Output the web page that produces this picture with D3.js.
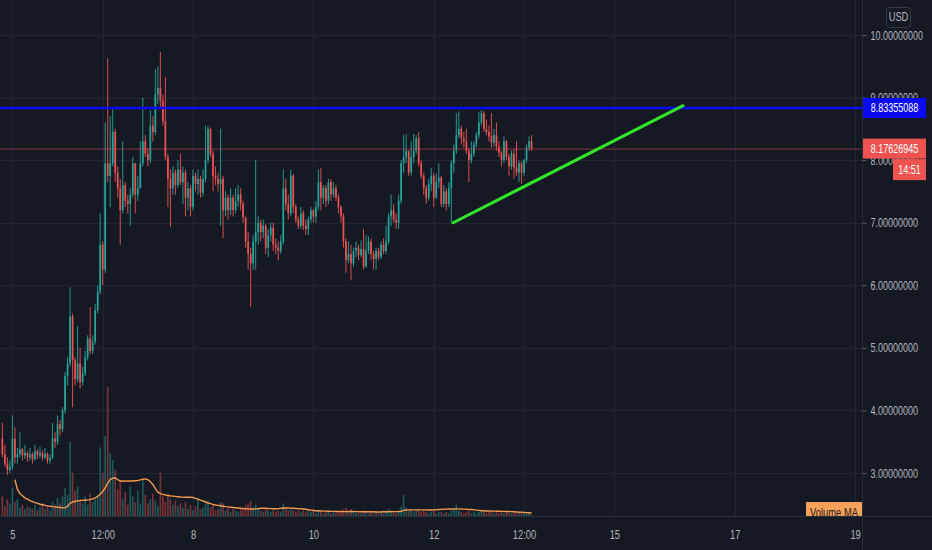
<!DOCTYPE html>
<html>
<head>
<meta charset="utf-8">
<script src="https://cdn.jsdelivr.net/npm/d3@7"></script>
<style>
  html, body { margin: 0; padding: 0; background: #151924; }
  svg { display: block; }
  text { font-family: "Liberation Sans", Arial, sans-serif; }
</style>
</head>
<body>
<script>
// ---- hourly candles, first one 4 hours before day 5 00:00 ----
const firstHour = -4;
const firstOpen = 3.55;

const closes = [
  3.30, 3.15, 3.05, 3.10, 3.55, 3.25, 3.30, 3.38, 3.28, 3.32,
  3.25, 3.30, 3.22, 3.35, 3.28, 3.32, 3.25, 3.30, 3.20, 3.24,
  3.55, 3.50, 3.78, 3.70, 4.00, 4.55, 4.75, 5.50, 4.80, 4.50,
  4.75, 4.45, 4.60, 4.85, 5.15, 4.95, 5.10, 5.60, 5.90, 6.65,
  6.25, 7.95, 7.75, 7.95, 8.45, 7.80, 7.55, 7.20, 7.60, 7.35,
  7.30, 7.45, 7.95, 7.45, 7.55, 7.95, 8.30, 8.10, 8.00, 8.55,
  8.45, 9.05, 9.15, 8.95, 8.62, 8.05, 7.70, 7.55, 7.80, 7.60,
  7.85, 7.65, 7.80, 7.40, 7.55, 7.25, 7.75, 7.62, 7.70, 7.48,
  7.70, 8.00, 8.50, 8.10, 7.75, 7.70, 7.62, 7.70, 7.20, 7.40,
  7.20, 7.40, 7.20, 7.35, 7.45, 7.30, 7.08, 6.70, 6.50, 6.35,
  6.70, 6.85, 7.00, 6.85, 6.95, 6.60, 6.80, 6.92, 6.65, 6.60,
  6.55, 6.70, 7.55, 7.30, 7.15, 7.75, 7.25, 7.05, 6.95, 7.15,
  6.95, 6.90, 7.05, 7.20, 7.10, 7.25, 7.65, 7.40, 7.55, 7.35,
  7.65, 7.45, 7.55, 7.40, 7.25, 7.10, 6.70, 6.40, 6.50, 6.35,
  6.55, 6.60, 6.48, 6.58, 6.30, 6.55, 6.70, 6.50, 6.42, 6.55,
  6.45, 6.65, 6.55, 6.70, 7.10, 7.20, 7.05, 7.00, 7.35, 7.95,
  8.05, 8.15, 7.80, 8.05, 8.15, 8.35, 7.95, 7.75, 7.55, 7.40,
  7.62, 7.75, 7.40, 7.65, 7.72, 7.30, 7.50, 7.30, 7.55, 7.95,
  8.15, 8.40, 8.50, 8.35, 8.30, 8.15, 8.00, 8.10, 8.25, 8.40,
  8.60, 8.75, 8.50, 8.45, 8.38, 8.28, 8.40, 8.22, 8.12, 8.00,
  8.30, 8.05, 7.90, 8.10, 7.88, 7.80, 7.95, 7.80, 8.00, 8.20,
  8.30, 8.17626945
];

const highs = [
  3.80, 3.45, 3.25, 3.20, 3.92, 3.73, 3.40, 3.65, 3.40, 3.45,
  3.35, 3.40, 3.33, 3.45, 3.38, 3.42, 3.36, 3.40, 3.33, 3.30,
  3.80, 3.65, 3.92, 3.85, 4.05, 4.62, 4.85, 5.97, 5.55, 4.85,
  5.35, 5.00, 4.70, 4.95, 5.20, 5.65, 5.20, 5.70, 6.00, 7.15,
  6.70, 8.60, 9.63, 8.70, 8.85, 8.50, 7.90, 7.70, 8.30, 7.65,
  7.45, 7.55, 8.05, 7.95, 7.75, 8.30, 9.00, 8.40, 8.20, 8.80,
  8.70, 9.45, 9.50, 9.73, 9.05, 9.33, 8.10, 7.85, 7.90, 7.85,
  8.00, 8.10, 7.90, 7.85, 7.65, 7.60, 7.85, 7.80, 7.85, 7.75,
  7.85, 8.55, 8.55, 8.52, 8.15, 7.90, 7.80, 8.50, 7.75, 7.50,
  7.45, 7.55, 7.45, 7.55, 7.60, 7.55, 7.35, 7.10, 6.85, 6.60,
  6.80, 8.00, 7.10, 7.05, 7.05, 6.98, 6.90, 7.00, 7.00, 6.75,
  6.70, 6.80, 7.85, 7.70, 7.45, 7.85, 7.78, 7.30, 7.10, 7.25,
  7.20, 7.05, 7.10, 7.25, 7.22, 7.35, 7.85, 7.88, 7.60, 7.60,
  7.70, 7.70, 7.65, 7.60, 7.45, 7.28, 7.15, 6.75, 6.70, 6.65,
  6.60, 6.70, 6.65, 6.72, 6.90, 6.80, 6.78, 6.75, 6.55, 6.60,
  6.60, 6.70, 6.75, 6.95, 7.15, 7.45, 7.30, 7.15, 7.45, 8.00,
  8.40, 8.42, 8.15, 8.30, 8.42, 8.40, 8.45, 8.00, 7.80, 7.60,
  7.70, 7.88, 7.80, 7.78, 7.95, 7.75, 7.60, 7.55, 7.65, 8.00,
  8.25, 8.75, 8.78, 8.55, 8.45, 8.50, 8.20, 8.30, 8.30, 8.45,
  8.77, 8.80, 8.78, 8.65, 8.55, 8.75, 8.50, 8.60, 8.30, 8.15,
  8.38, 8.32, 8.10, 8.15, 8.18, 8.30, 8.00, 7.98, 8.02, 8.25,
  8.38, 8.40
];

const lows = [
  3.25, 3.10, 2.97, 3.00, 3.05, 3.15, 3.15, 3.25, 3.20, 3.22,
  3.18, 3.20, 3.15, 3.20, 3.22, 3.24, 3.20, 3.22, 3.15, 3.15,
  3.22, 3.40, 3.45, 3.60, 3.65, 3.95, 4.40, 4.70, 4.05, 4.40,
  4.45, 4.35, 4.40, 4.55, 4.80, 4.90, 4.90, 5.05, 5.55, 5.85,
  6.00, 6.20, 7.65, 7.25, 7.90, 7.65, 7.40, 6.65, 7.15, 7.25,
  7.15, 6.95, 7.40, 7.15, 7.35, 7.55, 7.90, 8.05, 7.90, 7.95,
  8.30, 8.40, 8.90, 8.85, 8.55, 8.00, 7.25, 6.93, 7.45, 7.45,
  7.55, 7.60, 7.30, 7.10, 7.20, 7.10, 7.20, 7.50, 7.45, 7.40,
  7.42, 7.65, 7.95, 8.05, 7.50, 7.60, 7.50, 6.95, 6.75, 7.10,
  7.05, 7.12, 7.10, 7.15, 7.25, 7.20, 7.00, 6.60, 6.25, 5.65,
  6.25, 6.25, 6.65, 6.70, 6.75, 6.50, 6.45, 6.70, 6.55, 6.50,
  6.40, 6.50, 6.65, 7.20, 7.05, 7.10, 7.15, 7.00, 6.90, 6.90,
  6.88, 6.80, 6.80, 7.00, 7.00, 7.00, 7.20, 7.20, 7.30, 7.25,
  7.30, 7.35, 7.40, 7.35, 7.15, 7.00, 6.60, 6.20, 6.35, 6.08,
  6.30, 6.45, 6.40, 6.45, 6.25, 6.28, 6.50, 6.40, 6.25, 6.25,
  6.40, 6.42, 6.50, 6.50, 6.65, 6.95, 7.00, 6.90, 6.90, 7.30,
  7.80, 7.95, 7.75, 7.75, 7.95, 8.10, 7.90, 7.70, 7.45, 7.30,
  7.35, 7.50, 7.25, 7.38, 7.55, 7.25, 7.25, 7.20, 7.25, 7.00,
  7.80, 8.10, 8.35, 8.25, 8.20, 8.10, 7.65, 7.95, 8.05, 8.20,
  8.35, 8.55, 8.45, 8.40, 8.30, 8.20, 8.22, 8.15, 8.05, 7.90,
  7.95, 8.00, 7.75, 7.85, 7.70, 7.75, 7.65, 7.62, 7.75, 7.95,
  8.15, 8.15
];

const volumes = [
  14, 7, 12, 9, 20, 10, 12, 6, 8, 5,
  7, 6, 5, 8, 4, 6, 9, 5, 7, 4,
  10, 8, 13, 9, 14, 20, 15, 53, 31, 18,
  21, 12, 9, 14, 8, 16, 10, 12, 14, 49,
  31, 57, 92, 45, 40, 33, 19, 25, 12, 17,
  8, 21, 14, 10, 18, 9, 26, 15, 9, 12,
  16, 11, 7, 31, 14, 10, 16, 12, 8, 11,
  7, 9, 6, 10, 5, 8, 4, 7, 12, 5,
  6, 9, 11, 6, 8, 4, 5, 10, 9, 4,
  6, 3, 5, 4, 3, 5, 6, 8, 9, 11,
  6, 8, 5, 4, 3, 5, 4, 3, 4, 3,
  4, 3, 9, 6, 4, 5, 4, 3, 4, 3,
  4, 3, 4, 3, 5, 2, 4, 3, 2, 3,
  4, 2, 3, 2, 3, 4, 5, 6, 3, 5,
  3, 2, 3, 2, 4, 3, 2, 3, 2, 3,
  2, 3, 2, 3, 5, 4, 3, 2, 4, 7,
  15, 6, 4, 5, 3, 4, 5, 3, 4, 3,
  2, 3, 4, 2, 3, 3, 2, 3, 2, 4,
  5, 8, 4, 3, 2, 3, 4, 2, 3, 2,
  3, 4, 3, 2, 3, 4, 2, 3, 2, 3,
  2, 3, 2, 2, 3, 2, 3, 2, 2, 3,
  2, 1
];

// volume moving average, starting at candle 5
const volumeMAStart = 5;
const volumeMA = [
  26, 19, 16, 14.5, 13, 12, 11, 10.3, 9.6, 9,
  8.4, 8, 7.6, 7.2, 7, 6.7, 6.5, 6.3, 6.1, 5.9,
  5.8, 7, 9, 10, 10.5, 10.8, 11, 11.2, 11.3, 11.5,
  11.7, 12.2, 13, 14, 15.5, 17.5, 20, 23.5, 26, 27,
  27.3, 26, 25, 25, 24.8, 25, 25, 25, 25.2, 25.4,
  25.8, 26.3, 26.5, 26, 24.5, 22.5, 19.5, 17, 16, 15.5,
  15, 14.6, 14.4, 14.2, 14, 13.8, 13.6, 13.5, 13.4, 13.4,
  13.5, 13.2, 12.6, 12, 11.3, 10.7, 10, 9.3, 8.8, 8.3,
  7.9, 7.6, 7.3, 7, 6.7, 6.5, 6.3, 6.1, 5.9, 5.7,
  5.5, 5.3, 5.2, 5.1, 5, 5, 5.1, 5.3, 5.5, 5.6,
  5.5, 5.4, 5.3, 5.2, 5.2, 5.3, 5.5, 5.7, 5.8, 5.7,
  5.6, 5.5, 5.4, 5.3, 5.2, 5, 4.8, 4.5, 4.2, 3.9,
  3.8, 3.7, 3.6, 3.5, 3.5, 3.4, 3.3, 3.3, 3.2, 3.2,
  3.1, 3.1, 3.1, 3.2, 3.2, 3.2, 3.1, 3.1, 3.0, 3.0,
  3.0, 3.0, 3.0, 3.0, 2.9, 2.9, 2.9, 3.0, 3.0, 3.0,
  3.1, 3.1, 3.1, 3.2, 3.4, 4.0, 4.3, 4.4, 4.4, 4.4,
  4.4, 4.4, 4.4, 4.4, 4.4, 4.3, 4.3, 4.4, 4.5, 4.6,
  4.7, 4.8, 4.9, 5.0, 5.0, 5.0, 5.1, 5.1, 5.0, 4.9,
  4.8, 4.7, 4.6, 4.4, 4.2, 4.0, 3.8, 3.7, 3.6, 3.6,
  3.5, 3.5, 3.4, 3.4, 3.3, 3.3, 3.2, 3.2, 3.1, 3.0,
  2.9, 2.8, 2.7, 2.6, 2.4, 2.3, 2.1
];

const priceTicks = [3, 4, 5, 6, 7, 8, 9, 10];
const timeTickHours = [0, 36, 72, 120, 168, 204, 240, 288, 336];
const timeTickLabels = ["5", "12:00", "8", "10", "12", "12:00", "15", "17", "19"];

const levelPrice = 8.83355088;
const lastPrice = 8.17626945;
const countdown = "14:51";
const currency = "USD";
// trend line anchors: [hour, price]
const trendLine = [[175.7, 7.0], [267.4, 8.87]];

// ---- layout ----
const W = 932, H = 550;
const plotRight = 862, plotBottom = 516;
const bg = "#151924";
const upColor = "#26a69a", downColor = "#ef5350";
const axisText = "#b2b5be";
const gridColor = "#212532";
const borderColor = "#2a2e39";
const squeeze = 0.72;

const x = d3.scaleLinear().domain([0, 336]).range([12.4, 855.1]);
const y = d3.scaleLinear().domain([3, 10]).range([473, 35]);
const yVol = d3.scaleLinear().domain([0, 100]).range([plotBottom, 376]);

const candles = closes.map((c, i) => ({
  h: firstHour + i,
  o: i === 0 ? firstOpen : closes[i - 1],
  c: c,
  hi: highs[i],
  lo: lows[i],
  v: volumes[i]
}));

const svg = d3.select("body").append("svg").attr("width", W).attr("height", H);
svg.append("rect").attr("width", W).attr("height", H).attr("fill", bg);

svg.append("defs").append("clipPath").attr("id", "plotClip")
  .append("rect").attr("x", 0).attr("y", 0).attr("width", plotRight).attr("height", plotBottom);

// narrow the glyphs horizontally (condensed look) by scaling about the text anchor
function condense(sel, k) {
  sel.each(function () {
    const xv = +this.getAttribute("x") || 0;
    this.setAttribute("x", 0);
    this.setAttribute("transform", `translate(${xv},0) scale(${k},1)`);
  });
}

const plot = svg.append("g").attr("clip-path", "url(#plotClip)");

// grid
plot.append("g").selectAll("line.h").data(priceTicks).join("line")
  .attr("x1", 0).attr("x2", plotRight)
  .attr("y1", d => Math.round(y(d)) + 0.5).attr("y2", d => Math.round(y(d)) + 0.5)
  .attr("stroke", gridColor).attr("stroke-width", 1);
plot.append("g").selectAll("line.v").data(timeTickHours).join("line")
  .attr("x1", d => Math.round(x(d)) + 0.5).attr("x2", d => Math.round(x(d)) + 0.5)
  .attr("y1", 0).attr("y2", plotBottom)
  .attr("stroke", gridColor).attr("stroke-width", 1);

// volume bars
const bodyW = 1.7;
plot.append("g").selectAll("rect").data(candles).join("rect")
  .attr("x", d => x(d.h) - bodyW / 2)
  .attr("width", bodyW)
  .attr("y", d => yVol(d.v))
  .attr("height", d => plotBottom - yVol(d.v))
  .attr("fill", d => d.c >= d.o ? upColor : downColor)
  .attr("opacity", 0.45);

// volume MA
const maPoints = volumeMA.map((v, k) => [firstHour + volumeMAStart + k, v]);
plot.append("path").datum(maPoints)
  .attr("d", d3.line().x(d => x(d[0])).y(d => yVol(d[1])))
  .attr("fill", "none").attr("stroke", "#f39a4e").attr("stroke-width", 1.4);

// candles
const cg = plot.append("g");
cg.selectAll("line").data(candles).join("line")
  .attr("x1", d => x(d.h)).attr("x2", d => x(d.h))
  .attr("y1", d => y(d.hi)).attr("y2", d => y(d.lo))
  .attr("stroke", d => d.c >= d.o ? upColor : downColor)
  .attr("stroke-width", 0.9);
cg.selectAll("rect").data(candles).join("rect")
  .attr("x", d => x(d.h) - bodyW / 2)
  .attr("width", bodyW)
  .attr("y", d => y(Math.max(d.o, d.c)))
  .attr("height", d => Math.max(1, Math.abs(y(d.o) - y(d.c))))
  .attr("fill", d => d.c >= d.o ? upColor : downColor);

// last price line
plot.append("line")
  .attr("x1", 0).attr("x2", plotRight)
  .attr("y1", y(lastPrice)).attr("y2", y(lastPrice))
  .attr("stroke", downColor).attr("stroke-opacity", 0.5).attr("stroke-width", 1);

// horizontal level
plot.append("line")
  .attr("x1", 0).attr("x2", plotRight)
  .attr("y1", y(levelPrice)).attr("y2", y(levelPrice))
  .attr("stroke", "#0a0af5").attr("stroke-width", 2.5);

// trend line
plot.append("line")
  .attr("x1", x(trendLine[0][0])).attr("y1", y(trendLine[0][1]))
  .attr("x2", x(trendLine[1][0])).attr("y2", y(trendLine[1][1]))
  .attr("stroke", "#33e52b").attr("stroke-width", 3).attr("stroke-linecap", "round");

// Volume MA tag (bottom is cut by the pane edge)
const tag = plot.append("g");
tag.append("rect").attr("x", 806).attr("y", 502).attr("width", 56).attr("height", 20)
  .attr("fill", "#f7a15a");
tag.append("text").attr("x", 834).attr("y", 517.5).attr("text-anchor", "middle")
  .attr("font-size", 12).attr("fill", "#1a1a1a").text("Volume MA")
  .call(condense, 0.78);

// pane borders
svg.append("line").attr("x1", plotRight + 0.5).attr("x2", plotRight + 0.5)
  .attr("y1", 0).attr("y2", H).attr("stroke", borderColor);
svg.append("line").attr("x1", 0).attr("x2", W)
  .attr("y1", plotBottom + 0.5).attr("y2", plotBottom + 0.5).attr("stroke", borderColor);

// price axis
const yAxis = svg.append("g").attr("transform", `translate(${plotRight + 0.5},0)`)
  .call(d3.axisRight(y).tickValues(priceTicks).tickFormat(d3.format(".8f"))
    .tickSize(4).tickPadding(4));
yAxis.select(".domain").remove();
yAxis.selectAll(".tick line").attr("stroke", "#5d606b");
yAxis.selectAll(".tick text").attr("fill", axisText).attr("font-size", 12.5)
  .attr("font-family", "'Liberation Sans', Arial, sans-serif")
  .call(condense, squeeze);

// time axis
const xAxis = svg.append("g").attr("transform", `translate(0,${plotBottom})`)
  .call(d3.axisBottom(x).tickValues(timeTickHours)
    .tickFormat((d, i) => timeTickLabels[i]).tickSize(0).tickPadding(14));
xAxis.select(".domain").remove();
xAxis.selectAll(".tick text").attr("fill", axisText).attr("font-size", 13)
  .attr("font-family", "'Liberation Sans', Arial, sans-serif")
  .call(condense, squeeze);

// price tags on the axis
function priceTag(yc, h, x0, fill, label) {
  const g = svg.append("g");
  g.append("rect").attr("x", x0).attr("y", yc - h / 2).attr("width", 926 - x0).attr("height", h)
    .attr("fill", fill);
  g.append("text").attr("x", (x0 + 926) / 2).attr("y", yc + 4.3)
    .attr("text-anchor", "middle").attr("font-size", 12.5).attr("fill", "#ffffff")
    .text(label).call(condense, squeeze);
  return g;
}
priceTag(y(levelPrice), 20, 863, "#0a0af5", d3.format(".8f")(levelPrice));
priceTag(y(lastPrice) - 0.5, 20, 863, "#ef5350", d3.format(".8f")(lastPrice));
priceTag(y(lastPrice) + 20.5, 21, 893, "#ef5350", countdown);

// currency badge
svg.append("rect").attr("x", 886.5).attr("y", 7.5).attr("width", 24).attr("height", 20)
  .attr("rx", 3).attr("fill", bg).attr("stroke", "#363a45");
svg.append("text").attr("x", 898.5).attr("y", 21.5).attr("text-anchor", "middle")
  .attr("font-size", 12).attr("fill", axisText).text(currency)
  .call(condense, 0.78);
</script>
</body>
</html>
